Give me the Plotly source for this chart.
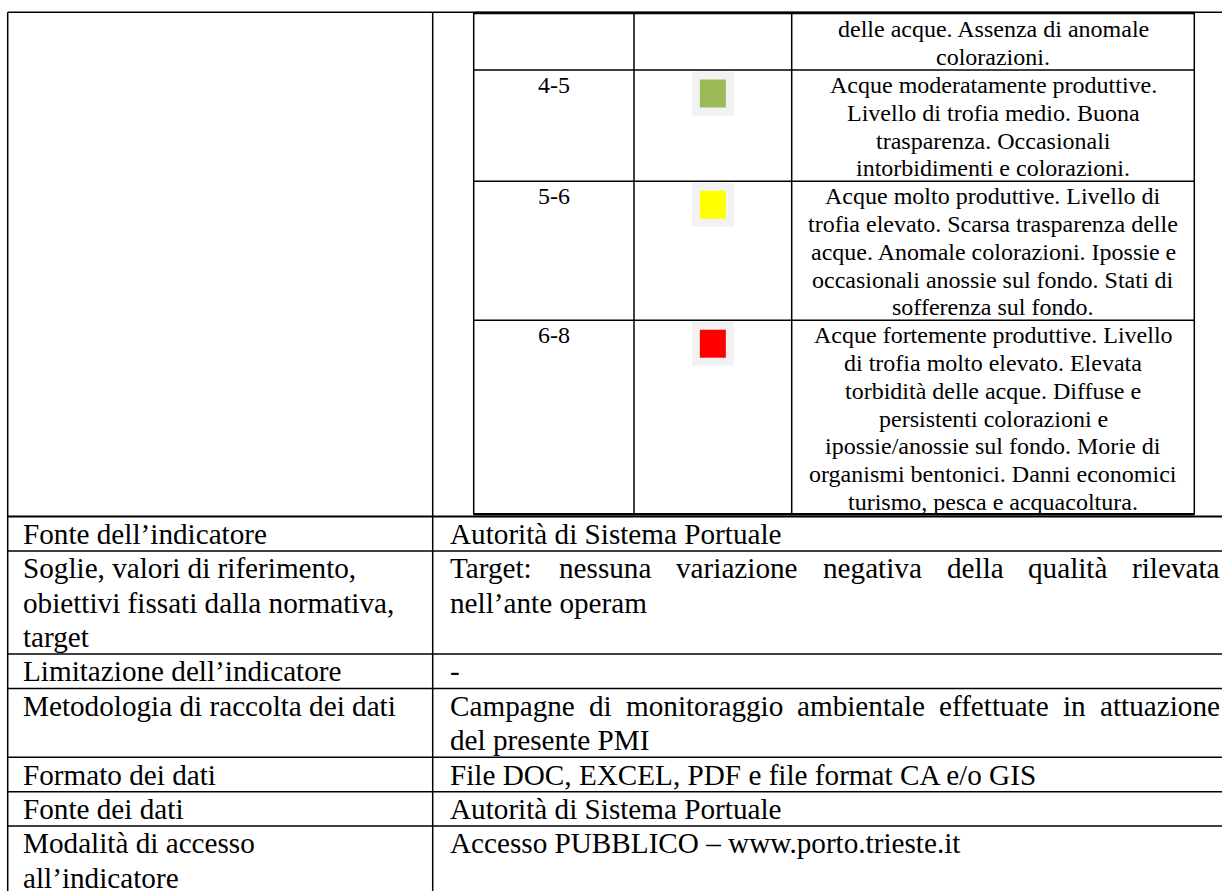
import plotly.graph_objects as go

# ---------------- data ----------------
inner_ranges = ["", "4-5", "5-6", "6-8"]
inner_colors = [None, "#9BBB59", "#FFFF00", "#FF0000"]
inner_desc = [
    ["delle acque. Assenza di anomale", "colorazioni."],
    ["Acque moderatamente produttive.", "Livello di trofia medio. Buona",
     "trasparenza. Occasionali", "intorbidimenti e colorazioni."],
    ["Acque molto produttive. Livello di", "trofia elevato. Scarsa trasparenza delle",
     "acque. Anomale colorazioni. Ipossie e", "occasionali anossie sul fondo. Stati di",
     "sofferenza sul fondo."],
    ["Acque fortemente produttive. Livello", "di trofia molto elevato. Elevata",
     "torbidità delle acque. Diffuse e", "persistenti colorazioni e",
     "ipossie/anossie sul fondo. Morie di", "organismi bentonici. Danni economici",
     "turismo, pesca e acquacoltura."],
]

row_labels = [
    ["Fonte dell’indicatore"],
    ["Soglie, valori di riferimento,", "obiettivi fissati dalla normativa,", "target"],
    ["Limitazione dell’indicatore"],
    ["Metodologia di raccolta dei dati"],
    ["Formato dei dati"],
    ["Fonte dei dati"],
    ["Modalità di accesso", "all’indicatore"],
]
row_values = [
    ["Autorità di Sistema Portuale"],
    ["Target: nessuna variazione negativa della qualità rilevata", "nell’ante operam"],
    ["-"],
    ["Campagne di monitoraggio ambientale effettuate in attuazione", "del presente PMI"],
    ["File DOC, EXCEL, PDF e file format CA e/o GIS"],
    ["Autorità di Sistema Portuale"],
    ["Accesso PUBBLICO – www.porto.trieste.it"],
]

# ---------------- layout / style ----------------
W, H = 1222, 891
FONT = "Liberation Serif, Times New Roman, serif"
FS_IN, FS_LOW = 24, 29.2
LH_IN, LH_LOW = 27.8, 34.4
X_LEFT, X_DIV = 7.7, 432.7
X_IN = [473.7, 634.0, 791.7, 1194.3]
Y_TOP = 12.3
INNER_TEXT_START = 70 - 2 * LH_IN
LOW_TOP = 516.5
PAD_L = 14.6
X_R_TEXT = X_DIV + 16.3
X_R_END = 1219
JUSTIFY = [False, True, False, True, False, False, False]
LW = 1.5

TNR = {}
TNR.update(dict(zip("abcdefghijklmnopqrstuvwxyz",
                    [444, 500, 444, 500, 444, 333, 500, 500, 278, 278, 500, 278, 778,
                     500, 500, 500, 500, 333, 389, 278, 500, 500, 722, 500, 500, 444])))
TNR.update(dict(zip("ABCDEFGHIJKLMNOPQRSTUVWXYZ",
                    [722, 667, 667, 722, 611, 556, 722, 722, 333, 389, 722, 611, 889,
                     722, 722, 556, 722, 667, 556, 611, 722, 722, 944, 722, 722, 611])))
TNR.update({" ": 250, ":": 278, ".": 250, ",": 250, "-": 333, "/": 278,
            "à": 444, "’": 333, "–": 500})


def text_w(s, fs):
    return sum(TNR.get(c, 500) for c in s) / 1000 * fs


shapes, annos = [], []


def hline(y, x0, x1, w=LW):
    shapes.append(dict(type="line", xref="x", yref="y", x0=x0, x1=x1, y0=y, y1=y,
                       line=dict(color="black", width=w)))


def vline(x, y0, y1, w=LW):
    shapes.append(dict(type="line", xref="x", yref="y", x0=x, x1=x, y0=y0, y1=y1,
                       line=dict(color="black", width=w)))


def text(s, x, y, fs, anchor="left"):
    annos.append(dict(text=s, x=x, y=y, xref="x", yref="y", xanchor=anchor,
                      yanchor="middle", showarrow=False, borderpad=0,
                      font=dict(family=FONT, size=fs, color="black")))


# ---------------- inner (nested) table ----------------
y = INNER_TEXT_START
inner_tops = []
for rng, col, lines in zip(inner_ranges, inner_colors, inner_desc):
    inner_tops.append(y)
    cx_rng = (X_IN[0] + X_IN[1]) / 2
    cx_sq = (X_IN[1] + X_IN[2]) / 2
    cx_desc = (X_IN[2] + X_IN[3]) / 2
    if rng:
        text(rng, cx_rng, y + LH_IN / 2 + 1, FS_IN, "center")
    if col:
        shapes.append(dict(type="rect", xref="x", yref="y", x0=cx_sq - 21, x1=cx_sq + 21,
                           y0=y + 1.5, y1=y + 45.5, fillcolor="#F2F2F2", line=dict(width=0),
                           layer="below"))
        shapes.append(dict(type="rect", xref="x", yref="y", x0=cx_sq - 13, x1=cx_sq + 13,
                           y0=y + 9.5, y1=y + 37.5, fillcolor=col, line=dict(width=0)))
    for i, ln in enumerate(lines):
        text(ln, cx_desc, y + i * LH_IN + LH_IN / 2 + 1, FS_IN, "center")
    y += len(lines) * LH_IN
inner_bottom = y

for t in inner_tops[1:]:
    hline(t, X_IN[0], X_IN[3])
hline(Y_TOP + 0.8, X_IN[0], X_IN[3], 2.5)
hline(inner_bottom - 0.5, X_IN[0], X_IN[3], 2.5)
for x in X_IN:
    vline(x, Y_TOP, inner_bottom)

# ---------------- outer table ----------------
hline(Y_TOP, X_LEFT, W)
vline(X_LEFT, Y_TOP, H + 5)
vline(X_DIV, Y_TOP, H + 5)

y = LOW_TOP
hline(y, X_LEFT, W, 2)
for lab, val, just in zip(row_labels, row_values, JUSTIFY):
    n = max(len(lab), len(val))
    for i, ln in enumerate(lab):
        text(ln, X_LEFT + PAD_L, y + i * LH_LOW + LH_LOW / 2, FS_LOW)
    for i, ln in enumerate(val):
        yy = y + i * LH_LOW + LH_LOW / 2
        if just and i < len(val) - 1:
            words = ln.split(" ")
            widths = [text_w(wd, FS_LOW) for wd in words]
            gap = (X_R_END - X_R_TEXT - sum(widths)) / (len(words) - 1)
            xx = X_R_TEXT
            for wd, ww in zip(words, widths):
                text(wd, xx, yy, FS_LOW)
                xx += ww + gap
        else:
            text(ln, X_R_TEXT, yy, FS_LOW)
    y += n * LH_LOW
    hline(y, X_LEFT, W)

fig = go.Figure(go.Scatter(x=[0], y=[0], mode="markers", marker=dict(opacity=0),
                           hoverinfo="skip", showlegend=False))
fig.update_layout(
    width=W, height=H, margin=dict(l=0, r=0, t=0, b=0),
    paper_bgcolor="white", plot_bgcolor="white",
    xaxis=dict(range=[0, W], visible=False, fixedrange=True),
    yaxis=dict(range=[H, 0], visible=False, fixedrange=True),
    shapes=shapes, annotations=annos, showlegend=False,
)
fig.write_html(
    "out.html",
    config={"displayModeBar": False},
    post_script="document.body.style.margin='0';document.body.style.overflow='hidden';",
)
